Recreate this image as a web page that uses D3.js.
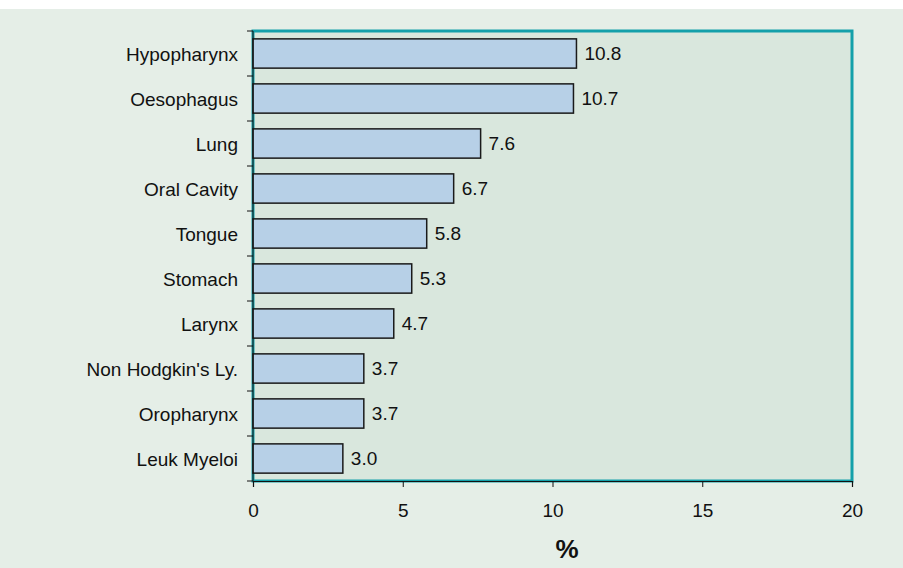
<!DOCTYPE html>
<html><head><meta charset="utf-8">
<script src="https://cdn.jsdelivr.net/npm/d3@7"></script>
<style>body{margin:0;background:#fff;}svg{display:block;font-family:"Liberation Sans",Arial,sans-serif;}</style>
</head><body><div id="chart"></div>
<script>
const categories = ["Hypopharynx","Oesophagus","Lung","Oral Cavity","Tongue","Stomach","Larynx","Non Hodgkin's Ly.","Oropharynx","Leuk Myeloi"];
const values = [10.8,10.7,7.6,6.7,5.8,5.3,4.7,3.7,3.7,3.0];
const xTicks = [0,5,10,15,20];
const xTitle = "%";

const W=903,H=568;
const m={left:253,right:51,top:31,bottom:87};
const FS=19;
const svg=d3.select("#chart").append("svg").attr("width",W).attr("height",H);
svg.append("rect").attr("x",0).attr("y",9).attr("width",W).attr("height",H-9).attr("fill","#e5eee7");
const x=d3.scaleLinear().domain([0,20]).range([m.left,W-m.right]);
const y=d3.scaleBand().domain(categories).range([m.top,H-m.bottom]).paddingInner(0.35).paddingOuter(0.175);
const yb=d3.scaleBand().domain(categories).range([m.top,H-m.bottom]);
// plot area
svg.append("rect").attr("x",m.left).attr("y",m.top).attr("width",W-m.left-m.right).attr("height",H-m.top-m.bottom)
  .attr("fill","#d9e7dd").attr("stroke","#14a0aa").attr("stroke-width",3);
// bars
svg.selectAll("rect.bar").data(values).join("rect").attr("class","bar")
  .attr("x",x(0)).attr("y",(d,i)=>y(categories[i])).attr("width",d=>x(d)-x(0)).attr("height",y.bandwidth())
  .attr("fill","#b7d0e7").attr("stroke","#1a1a1a").attr("stroke-width",1.5);
svg.selectAll("text.val").data(values).join("text").attr("class","val")
  .attr("x",d=>x(d)+8).attr("y",(d,i)=>y(categories[i])+y.bandwidth()/2).attr("dy","0.36em")
  .attr("font-size",FS).attr("fill","#111").text(d=>d.toFixed(1));
// y axis (ticks at band boundaries)
const bounds=categories.map(c=>yb(c)).concat([H-m.bottom]);
svg.append("line").attr("x1",m.left).attr("x2",m.left).attr("y1",m.top).attr("y2",H-m.bottom).attr("stroke","#111").attr("stroke-width",1);
svg.selectAll("line.yt").data(bounds).join("line").attr("class","yt")
  .attr("x1",m.left-6).attr("x2",m.left).attr("y1",d=>d).attr("y2",d=>d).attr("stroke","#111");
svg.selectAll("text.cat").data(categories).join("text").attr("class","cat")
  .attr("x",m.left-15).attr("y",c=>yb(c)+yb.bandwidth()/2).attr("dy","0.4em").attr("text-anchor","end")
  .attr("font-size",FS).attr("fill","#111").text(c=>c);
// x axis
const xa=svg.append("g").attr("transform",`translate(0,${H-m.bottom})`)
  .call(d3.axisBottom(x).tickValues(xTicks).tickSize(6).tickPadding(17).tickFormat(d3.format("d")));
xa.select(".domain").attr("stroke","#111").attr("stroke-width",1.2);
xa.selectAll(".tick line").attr("stroke","#111");
xa.selectAll("text").attr("font-size",FS).attr("fill","#111").attr("font-family","'Liberation Sans',Arial,sans-serif");
svg.append("text").attr("x",567).attr("y",558).attr("text-anchor","middle")
  .attr("font-size",26).attr("font-weight","bold").attr("fill","#111").text(xTitle);
</script></body></html>
